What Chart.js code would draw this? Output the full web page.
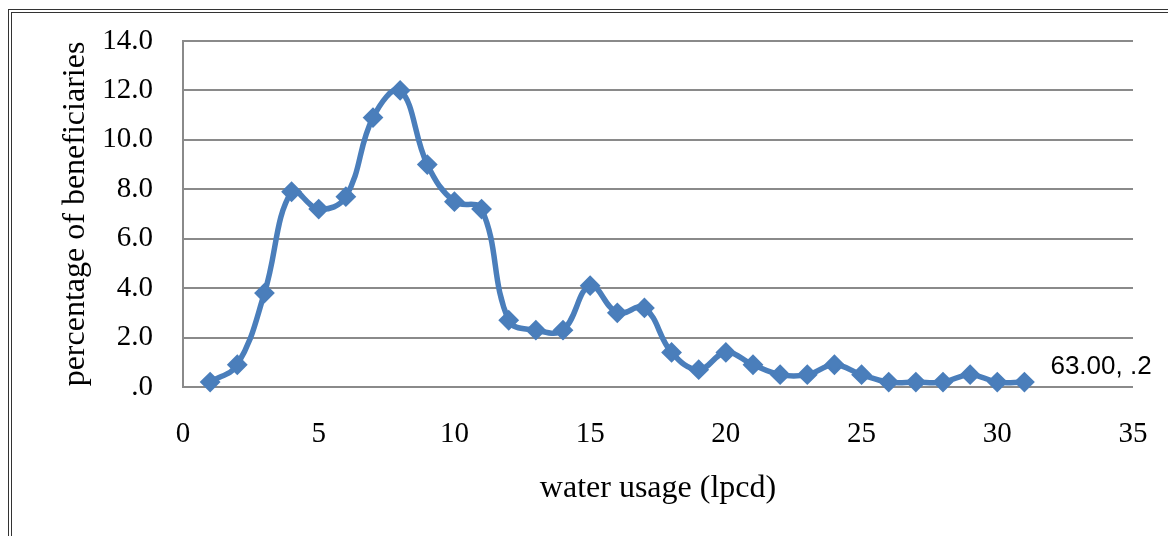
<!DOCTYPE html>
<html>
<head>
<meta charset="utf-8">
<script src="https://cdn.jsdelivr.net/npm/chart.js@4"></script>
<style>
  body { margin: 0; background: #fff; }
  .frame1 { position: absolute; left: 8px; top: 9px; width: 1300px; height: 700px; border-top: 1px solid #333; border-left: 1px solid #333; }
  .frame2 { position: absolute; left: 11px; top: 12px; width: 1300px; height: 700px; border-top: 1px solid #333; border-left: 1px solid #333; }
  .wrap { position: absolute; left: 0; top: 0; width: 1168px; height: 536px; }
</style>
</head>
<body>
<div class="frame1"></div>
<div class="frame2"></div>
<div class="wrap"><canvas id="myChart"></canvas></div>
<script>
// water usage (lpcd) and share of beneficiaries (%)
var usage = [1, 2, 3, 4, 5, 6, 7, 8, 9, 10, 11, 12, 13, 14, 15, 16, 17, 18, 19, 20, 21, 22, 23, 24, 25, 26, 27, 28, 29, 30, 31];
var share = [0.2, 0.9, 3.8, 7.9, 7.2, 7.7, 10.9, 12.0, 9.0, 7.5, 7.2, 2.7, 2.3, 2.3, 4.1, 3.0, 3.2, 1.4, 0.7, 1.4, 0.9, 0.5, 0.5, 0.9, 0.5, 0.2, 0.2, 0.2, 0.5, 0.2, 0.2];
var lastLabel = '63.00, .2';

var blue = '#4a7ebb';
var gridGray = '#8a8a8a';
var serif = "'Liberation Serif', 'Times New Roman', serif";

var points = usage.map(function (u, i) { return { x: u, y: share[i] }; });

// label next to the last point, placed from the chart's own scales
var lastPointLabel = {
  id: 'lastPointLabel',
  afterDatasetsDraw: function (chart) {
    var meta = chart.getDatasetMeta(0);
    var p = meta.data[meta.data.length - 1];
    var c = chart.ctx;
    c.save();
    c.font = "26px 'Liberation Sans', Arial, sans-serif";
    c.fillStyle = '#000';
    c.textAlign = 'left';
    c.textBaseline = 'middle';
    c.fillText(lastLabel, p.x + 26, p.y - 15);
    c.restore();
  }
};

var ctx = document.getElementById('myChart');
var chart = new Chart(ctx, {
  type: 'line',
  data: {
    datasets: [{
      data: points,
      borderColor: blue,
      backgroundColor: blue,
      borderWidth: 5.5,
      tension: 0.4,
      pointStyle: 'rectRot',
      pointRadius: 9,
      pointBorderWidth: 2,
      pointBackgroundColor: blue,
      pointBorderColor: blue,
      clip: false
    }]
  },
  options: {
    responsive: true,
    maintainAspectRatio: false,
    animation: false,
    layout: { padding: { top: 41, right: 35, left: 0, bottom: 0 } },
    plugins: {
      legend: { display: false },
      tooltip: { enabled: false }
    },
    scales: {
      x: {
        type: 'linear',
        min: 0,
        max: 35,
        grid: { display: false, drawTicks: false },
        border: { display: false },
        ticks: {
          stepSize: 5,
          padding: 30,
          color: '#000',
          font: { family: serif, size: 29 }
        },
        title: {
          display: true,
          text: 'water usage (lpcd)',
          color: '#000',
          font: { family: serif, size: 32 },
          padding: { top: 0, bottom: 28 }
        },
        afterFit: function (scale) {
          scale.height = 149;
          scale.paddingLeft = 0;
          scale.paddingRight = 0;
        }
      },
      y: {
        min: 0,
        max: 14,
        grid: { color: gridGray, lineWidth: 2, drawTicks: false },
        border: { display: true, color: gridGray, width: 2 },
        ticks: {
          stepSize: 2,
          padding: 30,
          color: '#000',
          font: { family: serif, size: 29 },
          callback: function (v) { return v === 0 ? '.0' : v.toFixed(1); }
        },
        title: {
          display: true,
          text: 'percentage of beneficiaries',
          color: '#000',
          font: { family: serif, size: 32 },
          padding: { top: 56, bottom: 0 }
        },
        afterFit: function (scale) {
          scale.width = 183;
          scale.paddingTop = 0;
          scale.paddingBottom = 0;
        }
      }
    }
  },
  plugins: [lastPointLabel]
});
</script>
</body>
</html>
